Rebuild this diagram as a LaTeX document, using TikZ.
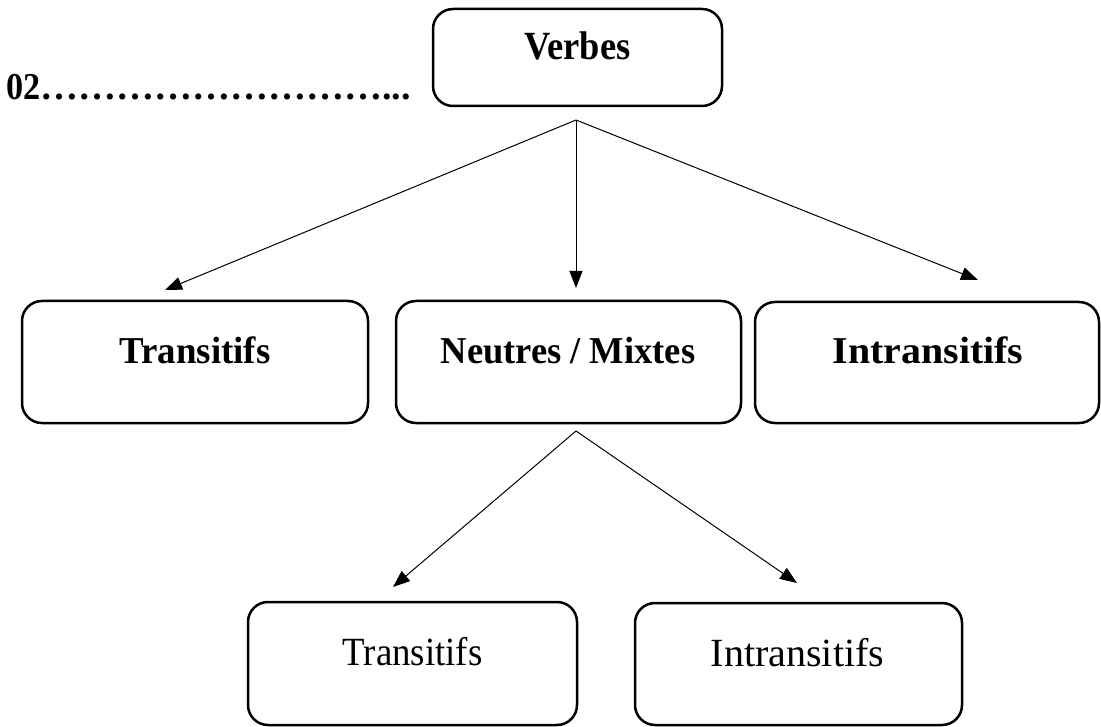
\documentclass[tikz,border=0pt]{standalone}
\usepackage{fontspec}
\setmainfont{Liberation Serif}
\usetikzlibrary{arrows.meta}
\def\myel{…}
\begin{document}
\begin{tikzpicture}[x=1pt,y=-1pt,
  box/.style={draw,line width=2.5pt,rounded corners=20pt,inner sep=0pt},
  boldtxt/.style={font=\fontsize{38}{42}\selectfont\bfseries,anchor=base,inner sep=0pt},
  regtxt/.style={font=\fontsize{40}{44}\selectfont,anchor=base,inner sep=0pt},
  arr/.style={line width=1pt,-{Triangle[length=17pt,width=13pt]}}]
\useasboundingbox (0,0) rectangle (1101,727);
% boxes
\node[box,minimum width=289pt,minimum height=97pt] (verbes) at (577.5,57.5) {};
\node[boldtxt,font=\fontsize{40}{44}\selectfont\bfseries] (tverbes) at (577.5,60) {\scalebox{0.91}[1]{Verbes}};
\node[font=\fontsize{38}{42}\selectfont\bfseries,anchor=base west,inner sep=0pt] (num) at (6,100) {\scalebox{0.9}[1]{02}\myel\myel\myel\myel\myel\myel\myel\myel\myel...};
\node[box,minimum width=346pt,minimum height=122pt] (trans) at (195,362) {};
\node[boldtxt] (ttrans) at (195,363) {\scalebox{0.97}[1]{Transitifs}};
\node[box,minimum width=345pt,minimum height=122pt] (neut) at (568.5,362) {};
\node[boldtxt] (tneut) at (568,363) {\scalebox{0.96}[1]{Neutres / Mixtes}};
\node[box,minimum width=344pt,minimum height=121pt] (intr) at (927,362.5) {};
\node[boldtxt] (tintr) at (928,363) {\scalebox{1.05}[1]{Intransitifs}};
\node[box,minimum width=329pt,minimum height=123pt] (strans) at (412.5,663.5) {};
\node[regtxt] (tstrans) at (412.5,665) {\scalebox{0.92}[1]{Transitifs}};
\node[box,minimum width=327pt,minimum height=122pt] (sintr) at (798.5,664) {};
\node[regtxt] (tsintr) at (797.5,666) {Intransitifs};
% connectors
\coordinate (apex) at (576,120);
\coordinate (apexb) at (576,431);
\coordinate (e1) at (165,290);
\coordinate (e2) at (576,288);
\coordinate (e3) at (978,280);
\coordinate (e4) at (393,587);
\coordinate (e5) at (797,583);
\draw[arr] (apex) -- (e1);
\draw[arr] (apex) -- (e2);
\draw[arr] (apex) -- (e3);
\draw[arr] (apexb) -- (e4);
\draw[arr] (apexb) -- (e5);
\end{tikzpicture}
\end{document}
